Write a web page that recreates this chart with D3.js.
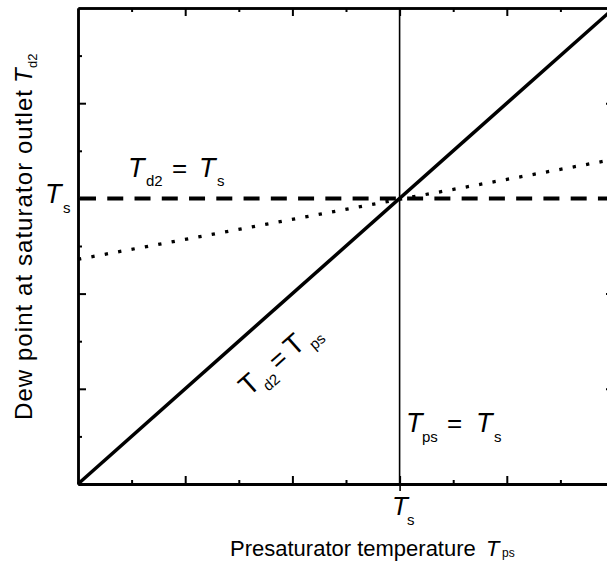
<!DOCTYPE html>
<html>
<head>
<meta charset="utf-8">
<script src="https://cdn.jsdelivr.net/npm/d3@7"></script>
<style>
  html, body { margin: 0; padding: 0; background: #fff; }
  svg { display: block; }
  text { font-family: "Liberation Sans", Arial, sans-serif; fill: #000; }
</style>
</head>
<body>
<svg id="chart" width="607" height="562"></svg>
<script>
// ---------------- data ----------------
const xDomain = [0, 5];
const yDomain = [0, 5];
const majorTicks = [0, 1, 2, 3, 4, 5];
const minorTicks = [0.5, 1.5, 2.5, 3.5, 4.5];
const Ts = 3;                                  // saturator temperature (schematic units)
const lineTd2EqTps = [[0, 0], [5, 5]];         // solid: Td2 = Tps
const lineTd2EqTs  = [[0, 3], [5, 3]];         // dashed: Td2 = Ts
const lineReal     = [[0, 2.36], [5, 3.41]];   // dotted: actual behaviour
const lineTpsEqTs  = [[3, 0], [3, 5]];         // thin vertical: Tps = Ts

// ---------------- layout ----------------
const svg = d3.select("#chart");
const x = d3.scaleLinear().domain(xDomain).range([78, 614]);
const y = d3.scaleLinear().domain(yDomain).range([484, 8]);
const line = d3.line().x(d => x(d[0])).y(d => y(d[1]));

// axes (frame with inward ticks)
function styleAxis(g, w) {
  g.selectAll(".domain").attr("stroke", "#000").attr("stroke-width", w);
  g.selectAll(".tick line").attr("stroke", "#000").attr("stroke-width", 2);
  g.selectAll(".tick text").remove();
}
const axes = [
  {ax: d3.axisBottom, t: `translate(0,${y(0)})`, sc: x, w: 3},
  {ax: d3.axisTop,    t: `translate(0,${y(5)})`, sc: x, w: 2.5},
  {ax: d3.axisLeft,   t: `translate(${x(0)},0)`, sc: y, w: 2.5},
  {ax: d3.axisRight,  t: `translate(${x(5)},0)`, sc: y, w: 2.5}
];
axes.forEach(a => {
  svg.append("g").attr("transform", a.t)
    .call(a.ax(a.sc).tickValues(minorTicks).tickSize(-4).tickSizeOuter(0).tickFormat(""))
    .call(g => styleAxis(g, a.w));
  svg.append("g").attr("transform", a.t)
    .call(a.ax(a.sc).tickValues(majorTicks.filter(v => v > 0 && v < 5)).tickSize(-8).tickSizeOuter(0).tickFormat(""))
    .call(g => styleAxis(g, a.w));
});
// outward tick at Ts on the x axis
svg.append("g").attr("transform", `translate(0,${y(0)})`)
  .call(d3.axisBottom(x).tickValues([Ts]).tickSize(7).tickSizeOuter(0).tickFormat(""))
  .call(g => { g.select(".domain").remove(); g.selectAll(".tick line").attr("stroke-width", 1.6); });

// lines
svg.append("path").datum(lineTpsEqTs).attr("d", line)
  .attr("fill", "none").attr("stroke", "#000").attr("stroke-width", 1.6);
svg.append("path").datum(lineReal).attr("d", line)
  .attr("fill", "none").attr("stroke", "#000").attr("stroke-width", 3.3)
  .attr("stroke-dasharray", "3.3,10.3");
svg.append("path").datum(lineTd2EqTs).attr("d", line)
  .attr("fill", "none").attr("stroke", "#000").attr("stroke-width", 4)
  .attr("stroke-dasharray", "16,11.26").attr("stroke-dashoffset", 25.26);
svg.append("path").datum(lineTd2EqTps).attr("d", line)
  .attr("fill", "none").attr("stroke", "#000").attr("stroke-width", 3.5);

// ---------------- text helpers ----------------
function piece(g, txt, px, py, size, italic) {
  g.append("text").attr("x", px).attr("y", py)
    .attr("font-size", size).attr("font-style", italic ? "italic" : "normal")
    .text(txt);
}

// left Ts label
let g = svg.append("g");
piece(g, "T", 45, 203, 27, true);
piece(g, "s", 63, 213, 15, false);

// bottom Ts label
g = svg.append("g");
piece(g, "T", 392, 515, 26, true);
piece(g, "s", 407, 525, 15, false);

// Td2 = Ts
g = svg.append("g");
piece(g, "T", 128, 177, 27, true);
piece(g, "d2", 146, 186, 15, false);
piece(g, "=", 172, 177, 26, false);
piece(g, "T", 199, 177, 27, true);
piece(g, "s", 217, 186, 15, false);

// Tps = Ts
g = svg.append("g");
piece(g, "T", 406, 432, 27, true);
piece(g, "ps", 422, 442, 15, false);
piece(g, "=", 447, 432, 26, false);
piece(g, "T", 476, 432, 27, true);
piece(g, "s", 494, 442, 15, false);

// rotated Td2 = Tps along the diagonal
const ang = -Math.atan2(y(0) - y(1), x(1) - x(0)) * 180 / Math.PI;
g = svg.append("g").attr("transform", `translate(249,397) rotate(${ang})`);
piece(g, "T", 0, 0, 28, false);
piece(g, "d2", 18, 9, 15, false);
piece(g, "=", 39, 0, 26, false);
piece(g, "T", 60, 0, 28, false);
piece(g, "ps", 80, 9, 15, false);

// x axis title
g = svg.append("g");
piece(g, "Presaturator temperature", 230, 556, 22, false);
piece(g, "T", 486, 556, 22, true);
piece(g, "ps", 502, 557, 12, false);

// y axis title
g = svg.append("g").attr("transform", "translate(32,420) rotate(-90)");
g.append("text").attr("x", 0).attr("y", 0).attr("font-size", 24)
  .attr("textLength", 330).attr("lengthAdjust", "spacing")
  .text("Dew point at saturator outlet");
piece(g, "T", 337, 0, 24, true);
piece(g, "d2", 352, 5, 13, false);
</script>
</body>
</html>
